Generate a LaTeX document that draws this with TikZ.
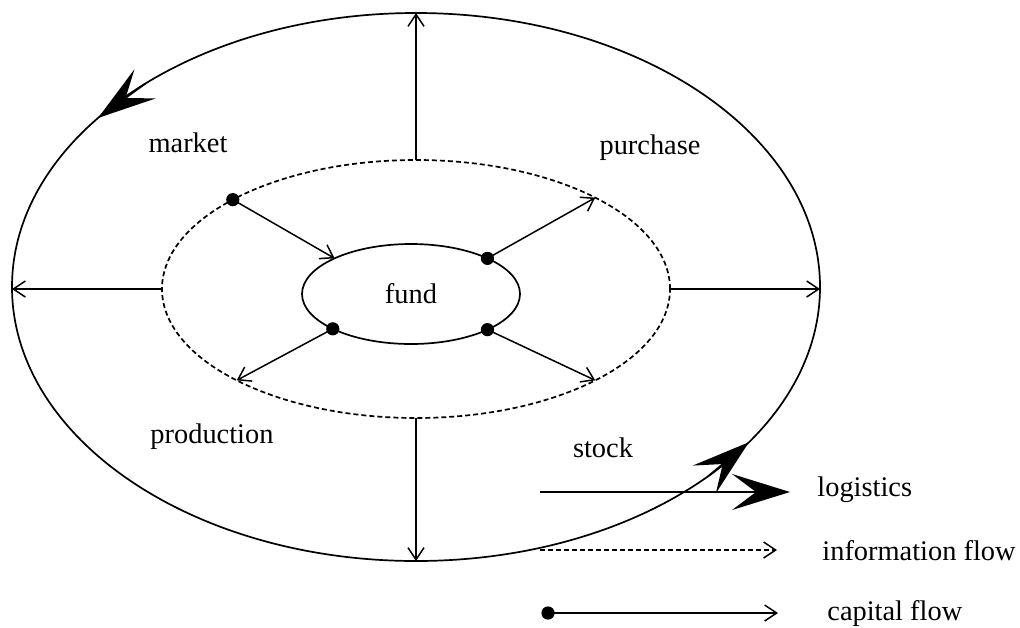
\documentclass[tikz,border=0pt]{standalone}
\usepackage{fontspec}
\setmainfont{Liberation Serif}
\usetikzlibrary{arrows.meta,shapes.geometric}

\begin{document}
\begin{tikzpicture}[x=0.5pt,y=-0.5pt,
    ring/.style={ellipse,draw,line width=0.85pt,inner sep=0pt,outer sep=0pt},
    lbl/.style={font=\fontsize{14.2}{17}\selectfont,inner sep=0pt},
    flow/.style={line width=0.75pt,-{Straight Barb[length=6pt,width=8pt]}},
    logistics/.style={line width=0.85pt,-{Stealth[length=29pt,width=18pt,inset=12pt]}},
    dot/.style={fill=black}]
    \useasboundingbox (0,0) rectangle (1020,627);
    % the three rings
    \node[ring,minimum width=404pt,minimum height=274pt] (cycle) at (416,287) {};
    \node[ring,dashed,dash pattern=on 2.5pt off 1.5pt,minimum width=254pt,minimum height=129pt] (info) at (416,289) {};
    \node[ring,lbl,minimum width=109pt,minimum height=50pt] (fund) at (411,294) {fund};
    \node[lbl] (market) at (188,143) {market};
    \node[lbl] (purchase) at (650,148) {purchase};
    \node[lbl] (production) at (212,437) {production};
    \node[lbl] (stock) at (603,448) {stock};
    % logistics direction on the outer ring
    \draw[logistics] (cycle.143) -- (cycle.152);
    \draw[logistics] (cycle.327) -- (cycle.335);
    % information flow
    \draw[flow] (info.north) -- (cycle.north);
    \draw[flow] (info.south) -- (cycle.south);
    \draw[flow] (info.west) -- (info.west -| cycle.west);
    \draw[flow] (info.east) -- (info.east -| cycle.east);
    % capital flow
    \draw[flow] (info.154) -- (fund.155);
    \draw[flow] (fund.25) -- (info.27);
    \draw[flow] (fund.204) -- (info.207);
    \draw[flow] (fund.335) -- (info.333);
    \foreach \p in {info.154,fund.25,fund.204,fund.335}
      \fill[dot] (\p) circle (3.3pt);
    % legend
    \coordinate (logA) at (540,492);
    \coordinate (logB) at (790,492);
    \coordinate (infA) at (540,550);
    \coordinate (infB) at (777,550);
    \coordinate (capA) at (548,613);
    \coordinate (capB) at (778,613);
    \draw[logistics] (logA) -- (logB);
    \draw[flow,dashed,dash pattern=on 2.5pt off 1.5pt] (infA) -- (infB);
    \draw[flow] (capA) -- (capB);
    \fill[dot] (capA) circle (3.3pt);
    \node[lbl,anchor=west] (logT) at (817,490) {logistics};
    \node[lbl,anchor=west] (infT) at (822,551) {information flow};
    \node[lbl,anchor=west] (capT) at (827,614) {capital flow};
  \end{tikzpicture}
\end{document}
